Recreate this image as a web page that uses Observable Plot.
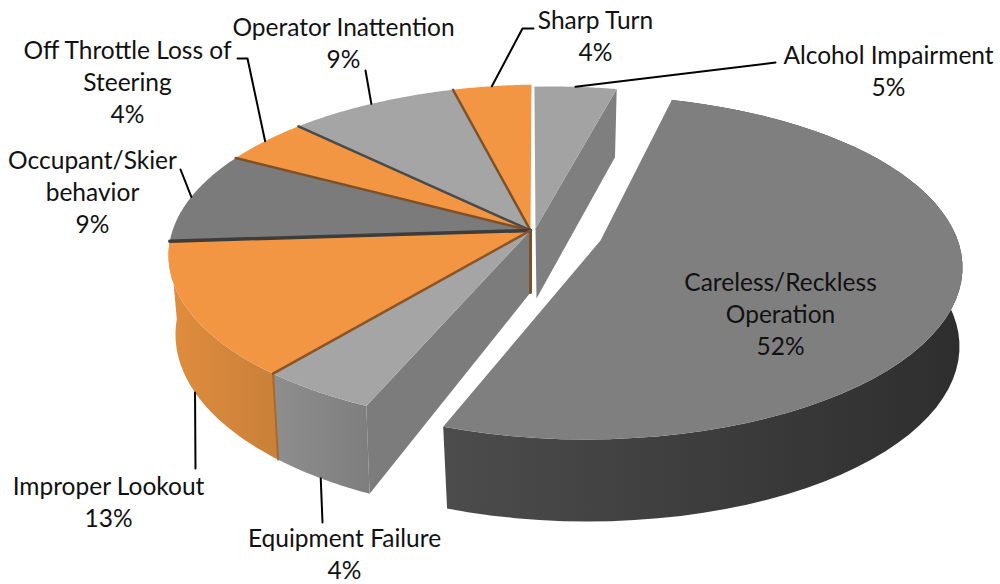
<!DOCTYPE html>
<html>
<head>
<meta charset="utf-8">
<script src="https://cdn.jsdelivr.net/npm/d3@7"></script>
<script src="https://cdn.jsdelivr.net/npm/@observablehq/plot@0.6"></script>
<style>html,body{margin:0;padding:0;background:#fff}svg{display:block}</style>
</head>
<body>
<div id="chart"></div>
<script>
// ---- data, clockwise from the top of the pie
const categories = ["Alcohol Impairment","Careless/Reckless Operation","Equipment Failure","Improper Lookout","Occupant/Skier behavior","Off Throttle Loss of Steering","Operator Inattention","Sharp Turn"];
const labelPercents = [5,52,4,13,9,4,9,4];
// drawn share of each slice (labels are rounded)
const drawnShares = [4.1,52.2,4.5,13.2,9.0,4.5,8.6,3.9];
const wrappedNames = [["Alcohol Impairment"],["Careless/Reckless","Operation"],["Equipment Failure"],["Improper Lookout"],["Occupant/Skier","behavior"],["Off Throttle Loss of","Steering"],["Operator Inattention"],["Sharp Turn"]];

// ---- look and geometry of the 3-D view
const topFill = ["#a3a3a3","#7f7f7f","#a5a5a5","#f39644","#7b7b7b","#f39644","#a5a5a5","#f39644"];
const mainView = {top:{cx:545,cy:255,rx:377,ry:171}, bottom:{cx:545,cy:334,rx:370,ry:181}, tip:[530,230], tipLow:[530,292], turn:0};
const alcoholView = {top:{cx:551,cy:256,rx:377,ry:170}, bottom:{cx:551,cy:334,rx:367,ry:180}, tip:[535,228], tipLow:[536,298], turn:-0.4};
const carelessView = {top:{cx:585,cy:267,rx:377,ry:172}, bottom:{cx:587,cy:346,rx:372,ry:175}, tip:[600,240], tipLow:[600,310], turn:-1.7};
const labelLayout = [[888,55],[780,282],[344,538],[108,486],[92,160],[127,50],[343,27],[595,20]];
const leaderLayout = [ // rim used, then the remaining vertices
  ["top",[[775,62]]], null, ["bottom",[[322,522]]], ["bottom",[[195,468]]],
  ["top",[[180,169]]], ["top",[[247,58],[237,58]]], ["top",[[365,70]]], ["top",[[522,28],[533,28]]]
];

// ---- turn shares into angles
let run = 0;
const starts = drawnShares.map(s => { const a = run; run += s; return a * 3.6; });
const ends = starts.map((a,i) => a + drawnShares[i] * 3.6);

function rimParam(view, deg){
  const e = view.top, u = (view.tip[0]-e.cx)/e.rx, v = -(view.tip[1]-e.cy)/e.ry;
  const rho = Math.hypot(u,v), k = 1/(1+Math.sqrt(1-rho*rho));
  const px = u*k, py = v*k, t = (deg+view.turn)*Math.PI/180, zx = Math.sin(t), zy = Math.cos(t);
  const nx = zx+px, ny = zy+py;
  const dx = 1+px*zx+py*zy, dy = px*zy-py*zx;
  const m = dx*dx+dy*dy;
  return [(nx*dx+ny*dy)/m, (ny*dx-nx*dy)/m];
}
const rimAt = (view, level, deg) => {
  const [a,b] = rimParam(view,deg), e = view[level];
  return {x:e.cx+e.rx*a, y:e.cy-e.ry*b};
};
const arc = (view, level, a, b) => d3.range(0,61).map(i => rimAt(view,level,a+(b-a)*i/60));
const pt = p => ({x:p[0],y:p[1]});
const topFace = (view,i) => [pt(view.tip), ...arc(view,"top",starts[i],ends[i]), pt(view.tip)];
const wall = (view,i) => [...arc(view,"top",starts[i],ends[i]), ...arc(view,"bottom",ends[i],starts[i])];
const cutFace = (view,deg) => [pt(view.tip), rimAt(view,"top",deg), rimAt(view,"bottom",deg), pt(view.tipLow)];
const viewOf = i => i===0 ? alcoholView : i===1 ? carelessView : mainView;

const face = (pts, fill) => Plot.line(pts, {x:"x", y:"y", fill, stroke:"none"});
const edge = (a, b, stroke, strokeWidth) => Plot.line([a,b], {x:"x", y:"y", stroke, strokeWidth});

const gradient = (id, a, b) => `<linearGradient id="${id}" x1="0" x2="1" y1="0" y2="0"><stop offset="0" stop-color="${a}"/><stop offset="1" stop-color="${b}"/></linearGradient>`;
const defsMark = () => {
  const g = document.createElementNS("http://www.w3.org/2000/svg","g");
  g.innerHTML = `<defs>${gradient("gImproper","#e08d3e","#c98038")}${gradient("gEquip","#8e8e8e","#7e7e7e")}${gradient("gCareless","#4c4c4c","#2e2e2e")}</defs>`;
  return g;
};

const labelRows = categories.map((c,i) => ({
  category:c, x:labelLayout[i][0], y:labelLayout[i][1],
  text:[...wrappedNames[i], labelPercents[i]+"%"].join("\n")
}));

const leaders = leaderLayout.flatMap((l,i) => {
  if(!l) return [];
  const start = rimAt(viewOf(i), l[0], (starts[i]+ends[i])/2);
  return [Plot.line([start, ...l[1].map(pt)], {x:"x", y:"y", stroke:"#000", strokeWidth:2})];
});

const [A,C,E,I,Oc,Of,Op,S] = [0,1,2,3,4,5,6,7];
const T = pt(mainView.tip);
const brown = "#7d5128", dark = "#3c3c3c";

const plot = Plot.plot({
  width:1000, height:584, margin:0,
  x:{axis:null, domain:[0,1000], range:[0,1000]},
  y:{axis:null, domain:[0,584], range:[0,584]},
  style:{fontFamily:"Lato, sans-serif", background:"#fff"},
  marks:[
    defsMark,
    face(wall(mainView,I),"url(#gImproper)"),
    face(wall(mainView,E),"url(#gEquip)"),
    edge(rimAt(mainView,"top",starts[I]), rimAt(mainView,"bottom",starts[I]),"#a86a2a",2),
    face(cutFace(mainView,starts[E]),"#7c7c7c"),
    edge(T, pt(mainView.tipLow),brown,3),
    face(cutFace(alcoholView,ends[A]),"#7f7f7f"),
    face(wall(carelessView,C),"url(#gCareless)"),
    ...[I,Oc,Of,Op,S,E].map(i => face(topFace(mainView,i), topFill[i])),
    face(topFace(alcoholView,A), topFill[A]),
    face(topFace(carelessView,C), topFill[C]),
    edge(T, rimAt(mainView,"top",starts[S]),brown,2.5),
    edge(T, rimAt(mainView,"top",starts[Op]),"#4a4a4a",2.5),
    edge(T, rimAt(mainView,"top",starts[Of]),brown,2.5),
    edge(T, rimAt(mainView,"top",starts[Oc]),dark,3.5),
    edge(T, rimAt(mainView,"top",starts[I]),"#8a5424",2.5),
    ...leaders,
    Plot.text(labelRows, {x:"x", y:"y", text:"text", fontSize:24.5, lineHeight:1.3, lineAnchor:"top", dy:-14, fill:"#111", textAnchor:"middle"})
  ]
});
document.getElementById("chart").append(plot);
</script>
</body>
</html>
